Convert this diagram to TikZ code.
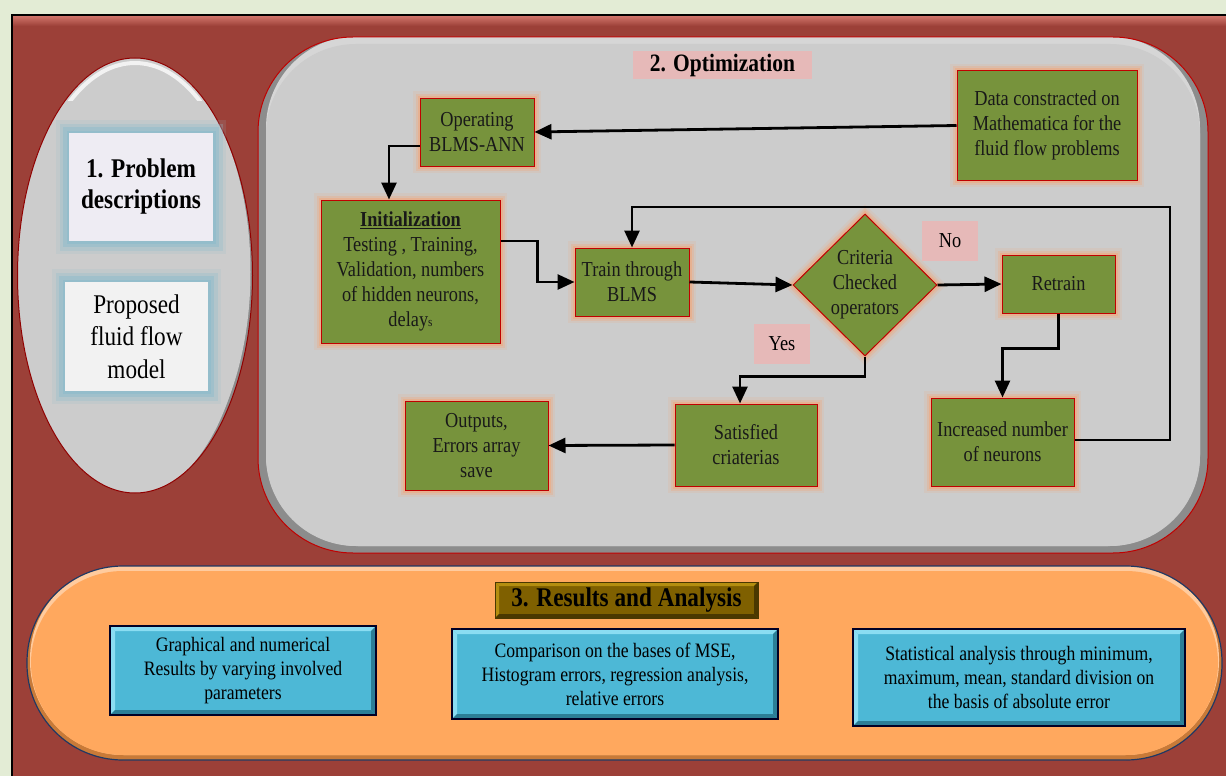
\documentclass[tikz,border=0pt]{standalone}
\usepackage{fontspec}
\setmainfont[FakeStretch=0.86]{Liberation Serif}
\usetikzlibrary{shapes.geometric,arrows.meta}
\definecolor{bgc}{HTML}{E3ECD5}
\definecolor{framec}{HTML}{9C4038}
\definecolor{frameh}{HTML}{D0746A}
\definecolor{panelg}{HTML}{CCCCCC}
\definecolor{panelsh}{HTML}{8C8C8C}
\definecolor{redb}{HTML}{C00000}
\definecolor{darkred}{HTML}{900000}
\definecolor{greenf}{HTML}{77933C}
\definecolor{glowo}{HTML}{F2A77A}
\definecolor{glowb}{HTML}{8FBDCB}
\definecolor{pinkl}{HTML}{E6B9B8}
\definecolor{orangef}{HTML}{FFA85E}
\definecolor{orangesh}{HTML}{C87A38}
\definecolor{navy}{HTML}{1F3864}
\definecolor{bluef}{HTML}{4DB8D6}
\definecolor{bluel}{HTML}{8ADDF2}
\definecolor{blued}{HTML}{2C7E96}
\definecolor{goldf}{HTML}{7F6000}
\definecolor{goldl}{HTML}{B48E10}
\definecolor{goldd}{HTML}{4A3800}
\definecolor{lavw}{HTML}{EEECF3}
\definecolor{offw}{HTML}{F2F2F2}
\newcommand{\fsN}{\fontsize{21.3}{25}\selectfont}
\newcommand{\fsB}{\fontsize{20.5}{24}\selectfont}
\tikzset{
  bevel/.style n args={3}{path picture={%
    \fill[#1] (path picture bounding box.north west) -- (path picture bounding box.north east) -- ([shift={(-#3,-#3)}]path picture bounding box.north east) -- ([shift={(#3,-#3)}]path picture bounding box.north west) -- cycle;
    \fill[#1] (path picture bounding box.north west) -- (path picture bounding box.south west) -- ([shift={(#3,#3)}]path picture bounding box.south west) -- ([shift={(#3,-#3)}]path picture bounding box.north west) -- cycle;
    \fill[#2] (path picture bounding box.south west) -- (path picture bounding box.south east) -- ([shift={(-#3,#3)}]path picture bounding box.south east) -- ([shift={(#3,#3)}]path picture bounding box.south west) -- cycle;
    \fill[#2] (path picture bounding box.north east) -- (path picture bounding box.south east) -- ([shift={(-#3,#3)}]path picture bounding box.south east) -- ([shift={(-#3,-#3)}]path picture bounding box.north east) -- cycle;}},
  glow/.style={preaction={draw=glowo, line width=14pt, opacity=0.15},
               preaction={draw=glowo, line width=9pt, opacity=0.3},
               preaction={draw=glowo, line width=5pt, opacity=0.5}},
  bglow/.style={preaction={draw=glowb, line width=26pt, opacity=0.15},
                preaction={draw=glowb, line width=19pt, opacity=0.3},
                preaction={draw=glowb, line width=12pt, opacity=0.5},
                preaction={draw=glowb, line width=5pt, opacity=0.7}},
  gbox/.style={glow, draw=redb, line width=1pt, fill=greenf, inner sep=0pt,
               align=center, font=\fsN, text=black!90},
  plabel/.style={fill=pinkl, inner sep=0pt, align=center},
  bbox/.style={draw=black!85!blue, line width=1.3pt, fill=bluef, bevel={bluel}{blued}{5pt},
               inner sep=0pt, align=center, font=\fsB},
  arr/.style={draw=black, line width=2.8pt, -{Triangle[length=17pt,width=15pt]}}
}
\begin{document}
\begin{tikzpicture}[x=1pt,y=-1pt]
\useasboundingbox (0,0) rectangle (1226,776);
\clip (0,0) rectangle (1226,776);
\fill[bgc] (0,0) rectangle (1226,776);
% red frame
\fill[framec] (12,15) rectangle (1240,790);
\shade[top color=frameh, bottom color=framec] (13,16) rectangle (1240,26);
\draw[black, line width=1.5pt] (12,790) -- (12,15) -- (1240,15);
% left ellipse
\begin{scope}
  \clip (135,275.5) ellipse [x radius=117.5, y radius=217.5];
  \fill[panelsh] (0,0) rectangle (300,520);
  \fill[panelg] (133,272) ellipse [x radius=117.5, y radius=217.5];
  \begin{scope}
    \clip (0,0) rectangle (300,100);
    \draw[white, opacity=0.75, line width=4pt] (135,277) ellipse [x radius=114, y radius=214];
  \end{scope}
  \fill[panelg] (134,282) ellipse [x radius=113, y radius=213];
\end{scope}
\draw[darkred, line width=1pt] (135,275.5) ellipse [x radius=117.5, y radius=217.5];
\node[bglow, fill=lavw, minimum width=144pt, minimum height=108pt, inner sep=0pt, align=center,
      font=\fontsize{27}{31}\selectfont\bfseries] (pd) at (141,187) {1. Problem\\descriptions};
\node[bglow, fill=offw, minimum width=143pt, minimum height=109pt, inner sep=0pt, align=center,
      font=\fontsize{27}{32.5}\selectfont] (pm) at (136.5,336.5) {Proposed\\fluid flow\\model};
% optimization panel
\begin{scope}
  \clip[rounded corners=95pt] (258,37) rectangle (1208,553);
  \fill[panelsh] (250,30) rectangle (1220,560);
  \fill[panelg!80!white, rounded corners=92pt] (266,36) rectangle (1200,546);
  \fill[panelg, rounded corners=90pt] (266,44) rectangle (1200,546);
\end{scope}
\draw[redb, line width=1pt, rounded corners=95pt] (258,37) rectangle (1208,553);
\node[plabel, minimum width=179pt, minimum height=28pt, font=\fontsize{25}{28}\selectfont\bfseries] (optl) at (722.5,65) {2. Optimization};
\node[gbox, minimum width=180pt, minimum height=109pt] (data) at (1047,125.5) {Data constracted on\\Mathematica for the\\fluid flow problems};
\node[gbox, minimum width=114pt, minimum height=68pt] (oper) at (477,132) {Operating\\BLMS-ANN};
\node[gbox, minimum width=179pt, minimum height=143pt] (init) at (410.5,271.5) {{\bfseries\underline{Initialization}}\\Testing , Training,\\Validation, numbers\\of hidden neurons,\\delay{\fontsize{13}{13}\selectfont s}};
\node[gbox, minimum width=114pt, minimum height=68pt] (train) at (632,282) {Train through\\BLMS};
\node[gbox, diamond, aspect=1, minimum width=144pt, minimum height=142pt] (dia) at (865,285) {Criteria\\Checked\\operators};
\node[plabel, minimum width=56pt, minimum height=40pt, font=\fsN] (no) at (950,241) {No};
\node[gbox, minimum width=113pt, minimum height=58pt] (retrain) at (1058.5,284) {Retrain};
\node[plabel, minimum width=56pt, minimum height=40pt, font=\fsN] (yes) at (782,344) {Yes};
\node[gbox, minimum width=143pt, minimum height=88pt] (incr) at (1002.5,442) {Increased number\\of neurons};
\node[gbox, minimum width=142pt, minimum height=82pt] (satis) at (746,445) {Satisfied\\criaterias};
\node[gbox, minimum width=143pt, minimum height=89pt] (outs) at (476.5,445.5) {Outputs,\\Errors array\\save};
\coordinate (fb) at (1170,207);
% connectors
\draw[arr] (data.west) -- (oper.east);
\draw[arr] ([yshift=-14pt]oper.west) -| ([xshift=-21.5pt]init.north);
\draw[arr] ([yshift=30.5pt]init.east) -- ++(37,0) |- (train.west);
\draw[arr] (train.east) -- (dia.west);
\draw[arr] (dia.east) -- (retrain.west);
\draw[arr] (retrain.south) -- ++(0,35) -| (incr.north);
\draw[arr] (dia.south) -- ++(0,20) -| ([xshift=-6pt]satis.north);
\draw[arr] (satis.west) -- (outs.east);
\draw[arr] ([yshift=2pt]incr.east) -| (fb) -| (train.north);
% results panel
\begin{scope}
  \clip[rounded corners=96pt] (27,566) rectangle (1222,760);
  \fill[orangesh] (20,560) rectangle (1230,770);
  \fill[orangef!60!white, rounded corners=94pt] (30,565) rectangle (1219,755);
  \fill[orangef, rounded corners=92pt] (31,571) rectangle (1218,755);
\end{scope}
\draw[navy, line width=1.2pt, rounded corners=96pt] (27,566) rectangle (1222,760);
\node[draw=goldd, line width=1pt, fill=goldf, bevel={goldl}{goldd}{4pt}, minimum width=263pt, minimum height=36pt,
      inner sep=0pt, font=\fontsize{27}{30}\selectfont\bfseries] (resl) at (626.5,600) {3. Results and Analysis};
\node[bbox, minimum width=266pt, minimum height=89pt] (b1) at (243,670.5) {Graphical and numerical\\Results by varying involved\\parameters};
\node[bbox, minimum width=326pt, minimum height=90pt] (b2) at (615,674) {Comparison on the bases of MSE,\\Histogram errors, regression analysis,\\relative errors};
\node[bbox, minimum width=332pt, minimum height=97pt] (b3) at (1019,677.5) {Statistical analysis through minimum,\\maximum, mean, standard division on\\the basis of absolute error};
\end{tikzpicture}
\end{document}
